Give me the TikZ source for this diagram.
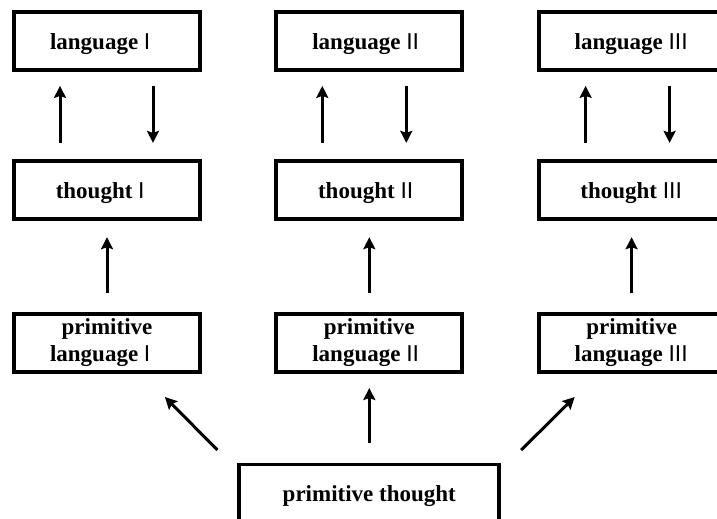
\documentclass[tikz,border=0pt]{standalone}
\usepackage{fontspec}
\setmainfont{Liberation Serif}
\newfontfamily\numfont{Liberation Sans}
\usetikzlibrary{arrows.meta,positioning}
\newcommand{\rnum}[1]{\makebox[20pt][l]{\numfont\mdseries #1}}

\begin{document}
\begin{tikzpicture}[->,>={Stealth[length=12pt,width=12pt,inset=2pt]},line width=3pt,node distance=87.5pt and 72.5pt,font=\bfseries\fontsize{23}{27}\selectfont]
                  \tikzstyle{box}=[draw,line width=3.8pt,minimum width=186pt,minimum height=58pt,align=center,inner sep=0pt]
                  \tikzstyle{oneline}=[text height=16pt,text depth=0pt]

                  \useasboundingbox (0,0) rectangle (717pt,-519pt);
                  \clip (0,0) rectangle (717pt,-519pt);

                  \node[box,oneline] (L1) at (107pt,-41pt)  {language \rnum{I}};
                  \node[box,oneline] (L2) [right=of L1]     {language \rnum{II}};
                  \node[box,oneline] (L3) [right=of L2]     {language \rnum{III}};
                  \node[box,oneline] (T1) [below=of L1]     {thought \rnum{I}};
                  \node[box,oneline] (T2) [below=of L2]     {thought \rnum{II}};
                  \node[box,oneline] (T3) [below=of L3]     {thought \rnum{III}};
                  \node[box]         (P1) [below=90.5pt of T1] {primitive\\language \rnum{I}};
                  \node[box]         (P2) [below=90.5pt of T2] {primitive\\language \rnum{II}};
                  \node[box]         (P3) [below=90.5pt of T3] {primitive\\language \rnum{III}};
                  \node[box,oneline,minimum width=260pt] (B) [below=89pt of P2] {primitive thought};

                  \path ([xshift=-47pt]T1.north) edge[shorten <=16.5pt,shorten >=14pt] ([xshift=-47pt]L1.south)
                        ([xshift=46pt]L1.south)  edge[shorten <=14pt,shorten >=16.5pt] ([xshift=46pt]T1.north)
                        ([xshift=-47pt]T2.north) edge[shorten <=16.5pt,shorten >=14pt] ([xshift=-47pt]L2.south)
                        ([xshift=37pt]L2.south)  edge[shorten <=14pt,shorten >=16.5pt] ([xshift=37pt]T2.north)
                        ([xshift=-46pt]T3.north) edge[shorten <=16.5pt,shorten >=14pt] ([xshift=-46pt]L3.south)
                        ([xshift=38pt]L3.south)  edge[shorten <=14pt,shorten >=16.5pt] ([xshift=38pt]T3.north)
                        (P1) edge[shorten <=18.5pt,shorten >=16pt] (T1)
                        (P2) edge[shorten <=18.5pt,shorten >=16pt] (T2)
                        (P3) edge[shorten <=18.5pt,shorten >=16pt] (T3)
                        (B)  edge[shorten <=19.5pt,shorten >=14.5pt] (P2)
                        ([xshift=-20pt,yshift=12.5pt]B.north west) edge ([xshift=-37pt,yshift=-23.5pt]P1.south east)
                        ([xshift=20pt,yshift=12.5pt]B.north east)  edge ([xshift=38pt,yshift=-23.5pt]P3.south west);
                \end{tikzpicture}
\end{document}
